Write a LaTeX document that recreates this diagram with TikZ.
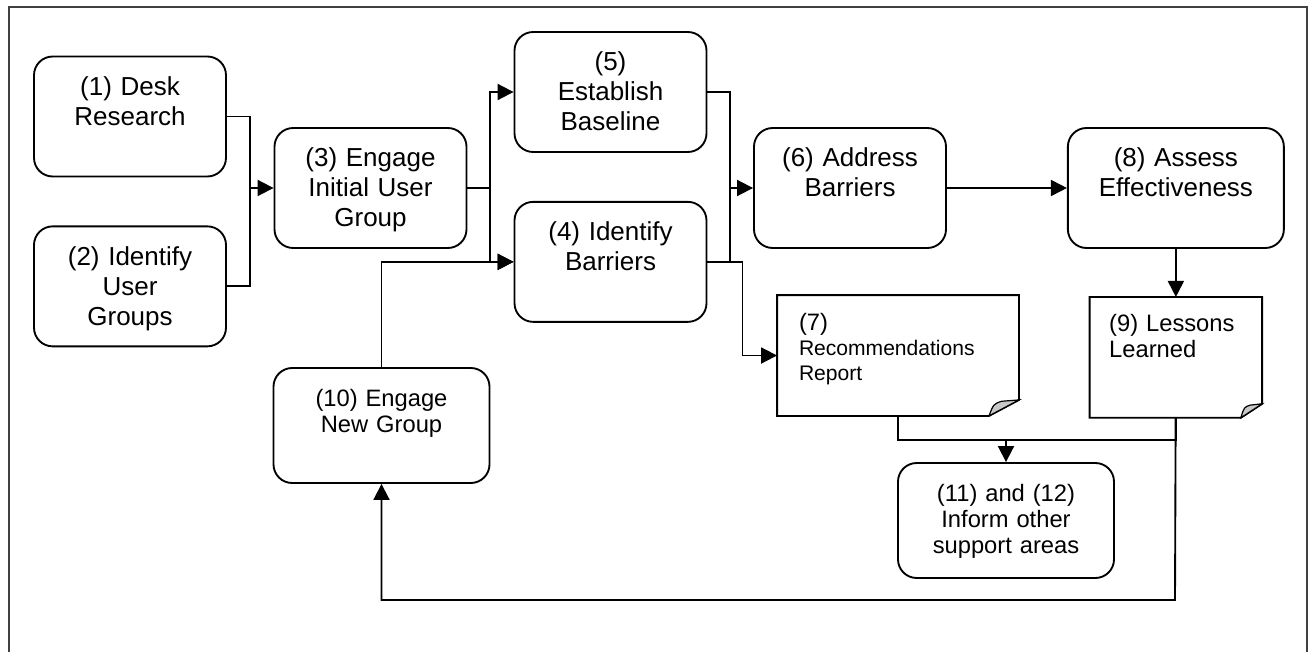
\documentclass[tikz,border=0pt]{standalone}
\usepackage{fontspec}
\setmainfont{Liberation Sans}
\usetikzlibrary{positioning,arrows.meta}

\definecolor{foldgray}{RGB}{200,200,200}
\definecolor{framegray}{RGB}{64,64,64}
\newcommand{\stepfont}{\fontsize{19.5pt}{22.5pt}\selectfont}
\newcommand{\notefont}{\fontsize{17.8pt}{19.5pt}\selectfont}
\newcommand{\reportfont}{\fontsize{15.8pt}{19pt}\selectfont}

\begin{document}
\begin{tikzpicture}[x=0.75pt, y=-0.75pt, line width=1.4pt,
  stepbox/.style={draw, rounded corners=14pt, minimum width=144pt, minimum height=90pt,
    inner sep=0pt, text width=136pt, align=center, text height=29pt, text depth=61pt, font=\stepfont},
  widebox/.style={stepbox, minimum width=162pt, text width=154pt},
  lowbox/.style={widebox, minimum height=86.25pt, text depth=57.25pt, font=\notefont},
  docbox/.style={minimum height=89.25pt, inner xsep=15.75pt, inner ysep=0pt, align=left,
    text height=25.5pt, text depth=63.75pt},
  link/.style={-{Triangle[length=12pt,width=12pt]}}
]
\useasboundingbox (0,0) rectangle (1316,652);
\draw[framegray, line width=1.6pt] (9,660) -- (9,7) -- (1307,7) -- (1307,660);

% steps
\node[stepbox] (desk) at (130,116.5) {(1) Desk\\Research};
\node[stepbox, below=36pt of desk] (groups) {(2) Identify\\User\\Groups};
\node[stepbox] (initial) at (370.5,188) {(3) Engage\\Initial User\\Group};
\node[stepbox] (baseline) at (610.5,92) {(5)\\Establish\\Baseline};
\node[stepbox, below=36pt of baseline] (barriers) {(4) Identify\\Barriers};
\node[stepbox] (address) at (850,188) {(6) Address\\Barriers};
\node[widebox, right=90pt of address] (assess) {(8) Assess\\Effectiveness};
\node[lowbox] (newgroup) at (381.5,425.5) {(10) Engage\\New Group};
\node[lowbox] (inform) at (1006,520.5) {(11) and (12)\\Inform other\\support areas};

% documents
\node[docbox, text width=148.5pt, font=\reportfont] (report) at (898,355.5) {{\notefont (7)}\\Recommendations\\Report};
\node[docbox, text width=100pt, inner xsep=14pt, font=\notefont, below=36pt of assess] (lessons) {(9) Lessons\\Learned};
\draw (report.north west) -- (report.north east) -- ([yshift=12pt]report.south east)
  -- ([xshift=-22.5pt]report.south east) -- (report.south west) -- cycle;
\filldraw[fill=foldgray, line width=0.9pt] ([xshift=-22.5pt]report.south east)
  .. controls ([xshift=-19pt,yshift=9pt]report.south east) .. ([xshift=-13pt,yshift=11pt]report.south east)
  -- ([yshift=12pt]report.south east) -- cycle;
\draw (lessons.north west) -- (lessons.north east) -- ([yshift=10.5pt]lessons.south east)
  -- ([xshift=-16pt]lessons.south east) -- (lessons.south west) -- cycle;
\filldraw[fill=foldgray, line width=0.9pt] ([xshift=-16pt]lessons.south east)
  .. controls ([xshift=-13.5pt,yshift=8pt]lessons.south east) .. ([xshift=-9pt,yshift=9.5pt]lessons.south east)
  -- ([yshift=10.5pt]lessons.south east) -- cycle;

% connectors
\coordinate (join12) at (250,188);
\draw (desk) -| (join12);
\draw (groups) -| (join12);
\draw[link] (join12) -- (initial);
\coordinate (split3) at (490,188);
\draw (initial) -- (split3);
\draw[link] (split3) |- (baseline);
\draw[link] (split3) |- (barriers);
\coordinate (join45) at (730,188);
\draw (baseline) -| (join45);
\draw (barriers) -| (join45);
\draw[link] (join45) -- (address);
\draw[link] (barriers.east) -- ++(35,0) |- (report);
\draw[link] (address) -- (assess);
\draw[link] (assess) -- (lessons);
\coordinate (join79) at (1006,440);
\draw (report) |- (join79);
\draw (lessons) |- (join79);
\draw[link] (join79) -- (inform);
\coordinate (back) at (1175,600);
\draw[link] (lessons) -- (back) -| (newgroup);
\draw[link] (newgroup) |- (barriers);
\end{tikzpicture}
\end{document}
